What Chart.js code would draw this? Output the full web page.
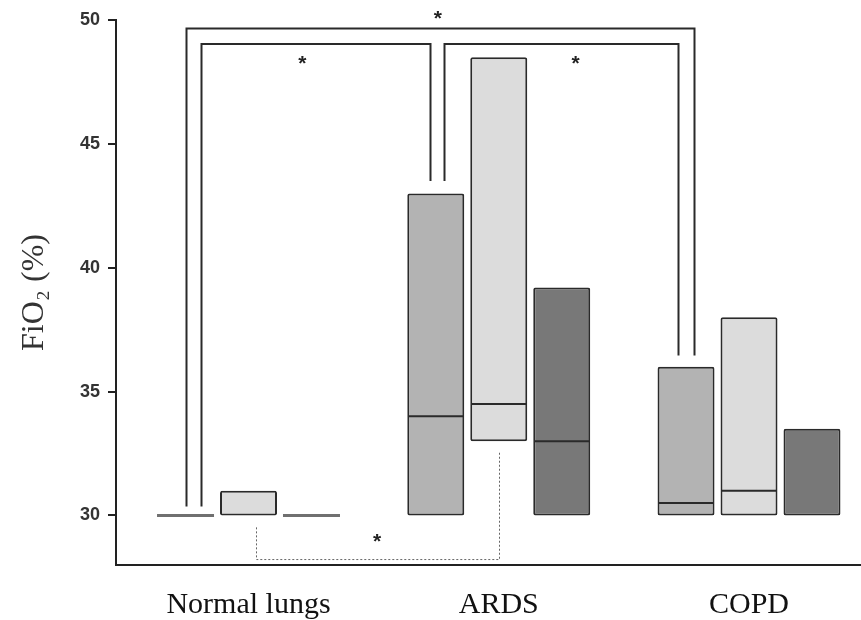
<!DOCTYPE html>
<html><head><meta charset="utf-8">
<script src="https://cdn.jsdelivr.net/npm/chart.js@4/dist/chart.umd.min.js"></script>
<style>html,body{margin:0;padding:0;background:#fff}#wrap{width:861px;height:620px}</style>
</head><body><div id="wrap"><canvas id="c"></canvas></div>
<script>
/* FiO2 by lung condition — floating range bars with medians */
const groups=['Normal lungs','ARDS','COPD'];
const yTicks=[30,35,40,45,50];
const aLow=[30,30,30], aHigh=[30,43,36],   aMed=[30,34,30.5];
const bLow=[30,33,30], bHigh=[31,48.5,38], bMed=[30,34.5,31];
const cLow=[30,30,30], cHigh=[30,39.2,33.5], cMed=[30,33,30];
const fills=['#b3b3b3','#dcdcdc','#787878'];

// significance brackets: ends are [group, series]
const sig=[
  {a:[0,0],b:[2,0],top:49.66,endA:30.36,endB:36.46,dxA:0,dxB:8,star:0.495,starY:50.3,dash:false},
  {a:[0,0],b:[1,0],top:49.03,endA:30.36,endB:43.5,dxA:15.5,dxB:-6,star:0.44,starY:48.45,dash:false},
  {a:[1,0],b:[2,0],top:49.03,endA:43.5,endB:36.46,dxA:8,dxB:-8,star:0.56,starY:48.45,dash:false},
  {a:[0,1],b:[1,1],top:28.22,endA:29.52,endB:32.55,dxA:7.5,dxB:0,star:0.496,starY:29.19,dash:true}
];

const lows=[aLow,bLow,cLow], highs=[aHigh,bHigh,cHigh], meds=[aMed,bMed,cMed];
const datasets=lows.map((lo,s)=>({
  label:'s'+s,
  data:groups.map((g,i)=>({x:i,y:[lo[i],highs[s][i]]})),
  backgroundColor:fills[s],
  borderColor:'#2a2a2a',
  borderWidth:c=>{const r=c.raw;return r&&r.y[0]===r.y[1]?0:2;},
  borderSkipped:false,
  borderRadius:2,
  categoryPercentage:0.755,
  barPercentage:0.905
}));

const marks={
  id:'marks',
  afterDatasetsDraw(chart){
    const ctx=chart.ctx, y=chart.scales.y;
    ctx.save();
    meds.forEach((md,s)=>{
      chart.getDatasetMeta(s).data.forEach((el,i)=>{
        const lo=lows[s][i], hi=highs[s][i];
        const x0=el.x-el.width/2, x1=el.x+el.width/2;
        ctx.beginPath();
        if(lo===hi){
          ctx.strokeStyle='#707070';ctx.lineWidth=3;
          ctx.moveTo(x0,y.getPixelForValue(lo));ctx.lineTo(x1,y.getPixelForValue(lo));
        }else if(md[i]>lo){
          ctx.strokeStyle='#2a2a2a';ctx.lineWidth=2;
          ctx.moveTo(x0+1,y.getPixelForValue(md[i]));ctx.lineTo(x1-1,y.getPixelForValue(md[i]));
        }
        ctx.stroke();
      });
    });
    ctx.restore();
  },
  afterDraw(chart){
    const ctx=chart.ctx, y=chart.scales.y;
    const bx=(p,dx)=>chart.getDatasetMeta(p[1]).data[p[0]].x+dx;
    ctx.save();
    sig.forEach(b=>{
      const xa=Math.round(bx(b.a,b.dxA))+0.5, xb=Math.round(bx(b.b,b.dxB))+0.5;
      const yt=y.getPixelForValue(b.top);
      ctx.beginPath();
      if(b.dash){ctx.setLineDash([2,2]);ctx.strokeStyle='#666';ctx.lineWidth=1;}
      else{ctx.setLineDash([]);ctx.strokeStyle='#2a2a2a';ctx.lineWidth=2;}
      ctx.moveTo(xa,y.getPixelForValue(b.endA));ctx.lineTo(xa,yt);ctx.lineTo(xb,yt);ctx.lineTo(xb,y.getPixelForValue(b.endB));
      ctx.stroke();
      ctx.setLineDash([]);
      ctx.fillStyle='#222';ctx.font='bold 21px "Liberation Sans"';
      ctx.textAlign='center';ctx.textBaseline='alphabetic';
      ctx.fillText('*',xa+(xb-xa)*b.star,y.getPixelForValue(b.starY)+12);
    });
    ctx.restore();
  }
};

new Chart(document.getElementById('c'),{
  type:'bar',
  data:{datasets},
  plugins:[marks],
  options:{
    responsive:true,maintainAspectRatio:false,animation:false,
    layout:{padding:{top:20,right:0,bottom:0,left:0}},
    plugins:{legend:{display:false},tooltip:{enabled:false}},
    scales:{
      x:{type:'linear',offset:false,min:-0.5295,max:2.4475,
        afterBuildTicks:s=>{s.ticks=groups.map((g,i)=>({value:i}));},
        afterFit:s=>{s.height=55;},
        grid:{display:true,offset:false,drawOnChartArea:false,drawTicks:false},
        border:{color:'#222',width:2},
        ticks:{autoSkip:false,maxRotation:0,padding:22,color:'#111',font:{family:'"Liberation Serif"',size:30},callback:v=>groups[v]}
      },
      y:{min:28,max:50,
        afterBuildTicks:s=>{s.ticks=yTicks.map(v=>({value:v}));},
        afterFit:s=>{s.width=116;},
        grid:{drawOnChartArea:false,drawTicks:true,tickLength:8,color:'#222',lineWidth:2},
        border:{color:'#222',width:2},
        ticks:{padding:8,color:'#333',font:{family:'"Liberation Sans"',size:18,weight:'bold'}},
        title:{display:true,text:'FiO₂ (%)',color:'#333',padding:{top:15,bottom:0},font:{family:'"Liberation Serif"',size:32}}
      }
    }
  }
});
</script></body></html>
